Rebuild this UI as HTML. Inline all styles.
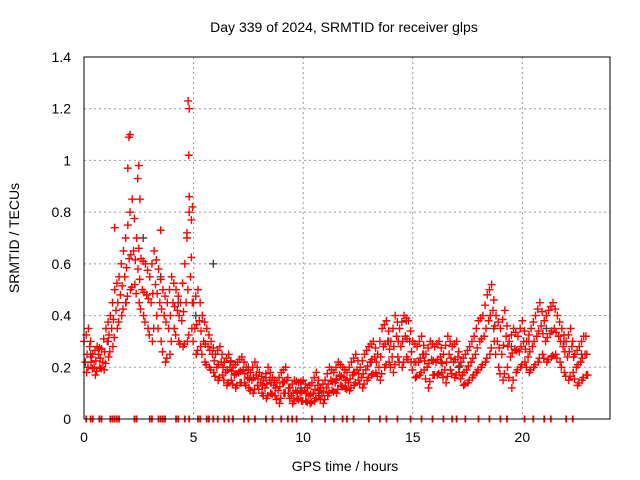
<!DOCTYPE html>
<html><head><meta charset="utf-8"><style>
body{margin:0;background:#fff}
svg{display:block;font-family:"Liberation Sans",sans-serif}
</style></head><body>
<svg id="chart" width="640" height="480">
<rect width="640" height="480" fill="#fff"/>
<text x="344" y="32" font-size="14" text-anchor="middle">Day 339 of 2024, SRMTID for receiver glps</text>
<text x="345" y="471" font-size="14" text-anchor="middle">GPS time / hours</text>
<text transform="translate(19,238) rotate(-90)" font-size="14" text-anchor="middle">SRMTID / TECUs</text>
<g id="grid"></g><g id="ticks"></g><g id="marks"></g>
<rect x="84" y="57" width="526" height="362" fill="none" stroke="#000" stroke-width="1"/>
</svg>
<script>
const xTicks=[0,5,10,15,20];
const yTicks=[0,0.2,0.4,0.6,0.8,1,1.2,1.4];
const yTickLabels=["0","0.2","0.4","0.6","0.8","1","1.2","1.4"];
const step=0.2;
const seriesA=[.30,.35,.25,.28,.27,.35,.40,.50,.55,.65,.75,.85,.70,.62,.60,.55,.65,.58,.50,.45,.55,.50,.45,.60,.80,.45,.50,.40,.35,.30,.25,.28,.22,.25,.20,.22,.24,.20,.18,.22,.18,.15,.20,.16,.14,.18,.20,.12,.15,.14,.15,.12,.14,.18,.12,.15,.20,.18,.22,.20,.18,.22,.25,.20,.25,.28,.30,.25,.35,.38,.30,.40,.35,.40,.38,.30,.28,.32,.25,.30,.28,.30,.25,.32,.28,.30,.22,.25,.28,.32,.38,.40,.48,.52,.40,.35,.42,.30,.35,.32,.38,.30,.35,.40,.45,.38,.42,.45,.40,.35,.30,.35,.25,.28,.32];
const seriesB=[.22,.28,.20,.25,.22,.30,.35,.42,.48,.55,.62,.65,.58,.50,.48,.45,.52,.45,.40,.35,.45,.42,.38,.45,.55,.35,.38,.30,.28,.25,.20,.22,.18,.20,.17,.18,.19,.16,.15,.17,.14,.12,.15,.13,.11,.14,.15,.09,.11,.10,.11,.09,.10,.13,.09,.12,.15,.14,.17,.16,.14,.17,.19,.16,.19,.22,.24,.20,.28,.30,.24,.32,.28,.32,.30,.22,.22,.25,.20,.23,.22,.24,.19,.25,.22,.24,.17,.19,.22,.25,.30,.32,.38,.42,.30,.25,.32,.24,.27,.26,.30,.24,.28,.32,.36,.30,.33,.35,.32,.28,.24,.28,.20,.22,.25];
const seriesC=[.18,.22,.17,.20,.19,.24,.28,.35,.40,.45,.50,.52,.45,.40,.35,.30,.40,.30,.22,.25,.35,.30,.28,.30,.35,.25,.28,.22,.20,.18,.15,.17,.13,.15,.12,.14,.14,.12,.10,.13,.10,.08,.10,.09,.06,.10,.10,.06,.08,.07,.07,.06,.07,.09,.06,.09,.11,.10,.13,.12,.11,.13,.15,.12,.15,.17,.18,.15,.20,.22,.18,.24,.20,.24,.22,.16,.17,.19,.12,.17,.17,.18,.14,.19,.16,.18,.13,.14,.16,.18,.20,.22,.25,.30,.20,.15,.20,.12,.18,.20,.22,.18,.20,.22,.25,.22,.24,.25,.22,.18,.15,.18,.13,.15,.17];
const greyStep=0.8;
const greyValues=[.25,.30,.45,.70,.55,.45,.40,.60,.22,.20,.16,.14,.12,.10,.15,.18,.22,.30,.38,.25,.22,.20,.18,.35,.28,.30,.35,.30,.25];
const spikeHours=[2.1,2.05,2.0,2.5,2.45,4.75,4.8,4.78,4.8,4.95,2.55,3.5,1.4,4.9,4.7];
const spikeValues=[1.10,1.09,0.97,0.98,0.93,1.23,1.20,1.02,0.86,0.82,0.85,0.73,0.74,0.77,0.72];
const zeroHours=[0.1,0.3,0.4,0.7,0.8,1.2,1.3,1.4,1.5,1.6,2.3,2.4,3.0,3.1,3.4,3.5,3.6,3.7,4.2,4.3,4.6,4.8,5.2,5.3,5.6,5.7,5.9,6.1,6.4,6.6,6.8,7.3,7.5,7.8,8.3,8.6,9.0,9.3,9.5,9.7,10.4,11.0,11.4,11.8,12.0,12.3,13.0,13.5,13.8,14.3,14.9,15.4,15.9,16.4,16.8,17.0,17.4,18.0,18.5,19.0,19.3,20.1,20.5,21.0,21.3,22.0,22.3];
const X=h=>84+h*(526/24);
const Y=v=>419-v*(362/1.4);
const NS="http://www.w3.org/2000/svg";
const grid=document.getElementById('grid'),ticks=document.getElementById('ticks'),marks=document.getElementById('marks');
function mk(tag,attrs,parent){const e=document.createElementNS(NS,tag);for(const k in attrs)e.setAttribute(k,attrs[k]);parent.appendChild(e);return e;}
xTicks.forEach(t=>{
 if(t>0){const g=mk('line',{x1:X(t),x2:X(t),y1:57,y2:419,stroke:'#999','stroke-dasharray':'2,3'},grid);
 
 }
 const tl=mk('text',{x:X(t),y:442,'font-size':14,'text-anchor':'middle'},ticks);tl.textContent=t;
 
 
});
yTicks.forEach((t,i)=>{
 if(t>0&&t<1.4){const g=mk('line',{x1:84,x2:610,y1:Y(t),y2:Y(t),stroke:'#999','stroke-dasharray':'2,3'},grid);
 
 }
 const tl=mk('text',{x:71,y:Y(t)+5,'font-size':14,'text-anchor':'end'},ticks);tl.textContent=yTickLabels[i];
 
 
});
function plus(h,v,col,name){const x=X(h),y=Y(v);
 const p=mk('path',{d:`M${x-4} ${y}h8M${x} ${y-4}v8`,stroke:col,'stroke-width':1.4,fill:'none'},marks);
 
 }
greyValues.forEach((v,i)=>plus(i*greyStep+0.3,v,'#444','grey-point'));
[seriesA,seriesB,seriesC].forEach((s,k)=>s.forEach((v,i)=>{plus(i*step+k*0.06,v,'#f00','srmtid-point');plus(i*step+0.1+k*0.04,(v+s[Math.min(i+1,s.length-1)])/2,'#f00','srmtid-point');}));
spikeHours.forEach((h,i)=>plus(h,spikeValues[i],'#f00','spike-point'));
zeroHours.forEach(h=>{const x=X(h);const p=mk('path',{d:`M${x} 415.5v7`,stroke:'#f00','stroke-width':1.8},marks);
 
 });
</script>
</body></html>
